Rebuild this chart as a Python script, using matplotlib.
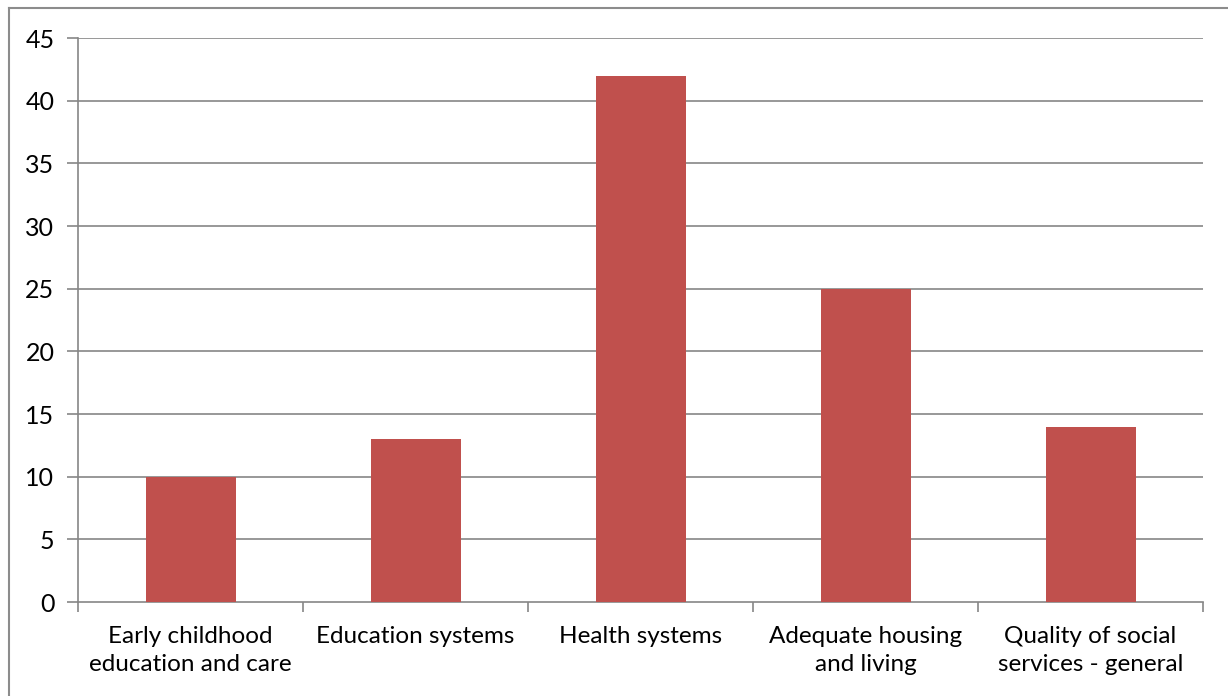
import matplotlib
matplotlib.use("Agg")
import matplotlib.pyplot as plt
from matplotlib.lines import Line2D

categories = ["Early childhood\neducation and care", "Education systems", "Health systems",
              "Adequate housing\nand living", "Quality of social\nservices - general"]
values = [10, 13, 42, 25, 14]
yticks = [0, 5, 10, 15, 20, 25, 30, 35, 40, 45]

plt.rcParams['font.family'] = ['Lato', 'DejaVu Sans']

W, H = 1228, 696
fig = plt.figure(figsize=(W/100, H/100), dpi=100)
ax = fig.add_axes([78/W, 1 - 602/H, (1203-78)/W, (602-38)/H])

grid_c = '#868686'
x = list(range(len(categories)))
ax.bar(x, values, width=0.4, color='#C0504D', zorder=3)
ax.set_xlim(-0.5, len(categories) - 0.5)
ax.set_ylim(0, 45)
ax.set_yticks(yticks)
ax.set_yticklabels([str(v) for v in yticks], fontsize=18)
for v in yticks[1:]:
    ax.axhline(v, color=grid_c, lw=1.2, zorder=1)

ax.set_xticks([i - 0.5 for i in range(len(categories) + 1)])
ax.set_xticklabels([])
ax.set_xticks(x, minor=True)
ax.set_xticklabels(categories, minor=True, fontsize=17.5, linespacing=1.45)
ax.tick_params(axis='x', which='minor', length=0, pad=17)
ax.tick_params(axis='x', which='major', length=7, color=grid_c, width=1.2)
ax.tick_params(axis='y', length=8, color=grid_c, width=1.2, pad=9)

for s in ['top', 'right']:
    ax.spines[s].set_visible(False)
for s in ['left', 'bottom']:
    ax.spines[s].set_color(grid_c)
    ax.spines[s].set_linewidth(1.2)

# outer frame (left and top visible)
fig.add_artist(Line2D([9/W, 9/W], [0, 1 - 8/H], color='#8c8c8c', lw=1.5, transform=fig.transFigure))
fig.add_artist(Line2D([9/W, 1], [1 - 8/H, 1 - 8/H], color='#8c8c8c', lw=1.5, transform=fig.transFigure))

fig.savefig('out.png', dpi=100)
